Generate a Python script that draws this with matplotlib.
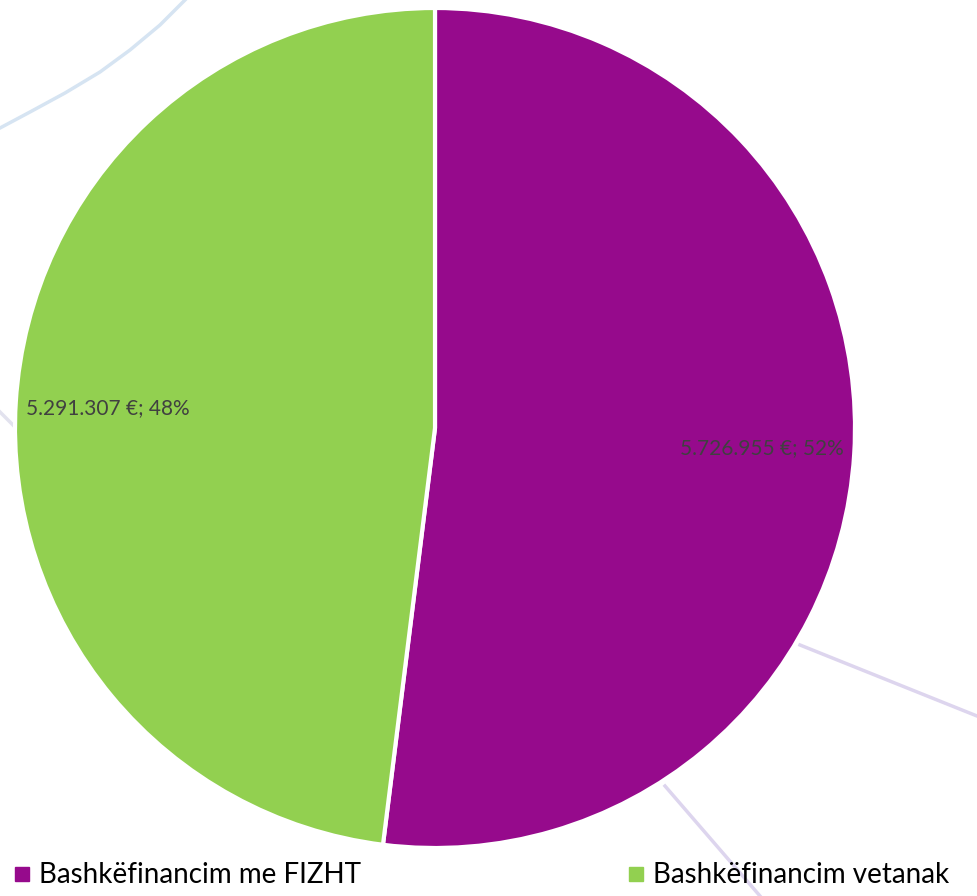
import matplotlib.pyplot as plt
from matplotlib.lines import Line2D

plt.rcParams['font.family'] = ['Lato', 'DejaVu Sans']

categories = ['Bashkëfinancim me FIZHT', 'Bashkëfinancim vetanak']
values = [5726955, 5291307]
colors = ['#960A8C', '#92D050']


def fmt_label(pct):
    val = round(pct / 100.0 * sum(values))
    return f"{val:,}".replace(',', '.') + f" €; {pct:.0f}%"


W, H = 977, 896
fig = plt.figure(figsize=(W / 100, H / 100), dpi=100)
fig.patch.set_facecolor('white')

# faint decorative background strokes (pixel coords from top-left)
deco = [
    ([185, 160, 130, 100, 65, 30, 0], [0, 25, 50, 72, 93, 112, 128], '#d6e4f2'),
    ([0, 16], [412, 428], '#e2e2ee'),
    ([800, 977], [645, 716], '#ddd5ee'),
    ([665, 760], [786, 896], '#ddd5ee'),
]
for xs, ys, c in deco:
    fig.add_artist(Line2D([x / W for x in xs], [1 - y / H for y in ys], color=c,
                          lw=2.5, transform=fig.transFigure, zorder=0))

ax = fig.add_axes([15 / W, 48 / H, 840 / W, 840 / H])
ax.pie(values, colors=colors, startangle=90, counterclock=False,
       autopct=fmt_label, pctdistance=0.78,
       wedgeprops=dict(edgecolor='white', linewidth=3),
       textprops=dict(color='#404040', fontsize=15))
ax.set_xlim(-1, 1)
ax.set_ylim(-1, 1)
ax.set_aspect('equal')

handles = [Line2D([], [], marker='s', linestyle='none', markersize=10,
                  markerfacecolor=c, markeredgecolor=c) for c in colors]
fig.legend(handles, categories, loc='lower left', bbox_to_anchor=(0.0, -0.004),
           ncol=2, frameon=False, fontsize=20, handletextpad=0.2,
           columnspacing=9.5, handlelength=0.8, borderaxespad=0)

fig.savefig('out.png', dpi=100, facecolor='white')
